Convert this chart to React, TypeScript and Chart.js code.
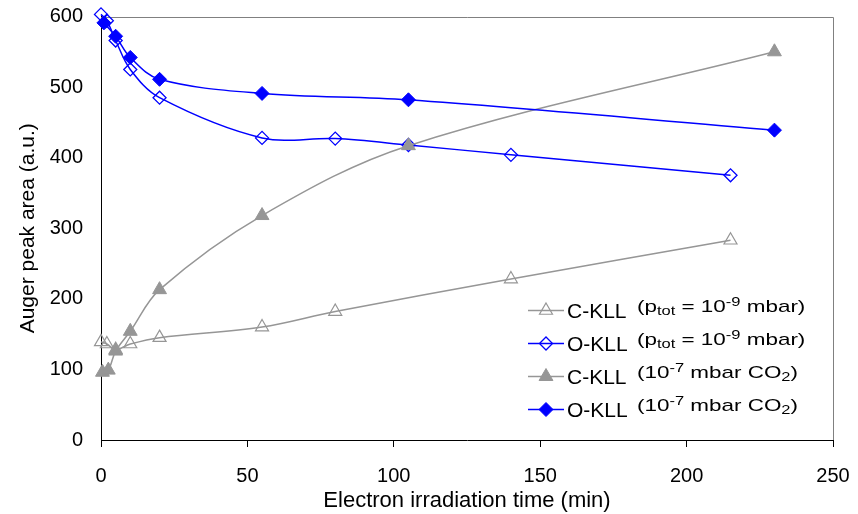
import React, { useEffect, useRef } from "react";
import { Chart, registerables } from "chart.js";
import { drawPoint } from "chart.js/helpers";

Chart.register(...registerables);

// ---- data ----
const cOpenTime = [0, 2, 5, 10, 20, 55, 80, 140, 215];
const cOpenArea = [139, 136, 128, 136, 145, 160, 182, 228, 283];

const oOpenTime = [0, 2, 5, 10, 20, 55, 80, 105, 140, 215];
const oOpenArea = [603, 594, 566, 525, 485, 428, 427, 418, 404, 375];

const cFilledTime = [0.5, 2.5, 5, 10, 20, 55, 105, 230];
const cFilledArea = [96, 99, 126, 154, 213, 318, 417, 550];

const oFilledTime = [1, 5, 10, 20, 55, 105, 230];
const oFilledArea = [591, 572, 542, 511, 491, 482, 439];

const xTickValues = [0, 50, 100, 150, 200, 250];
const yTickValues = [0, 100, 200, 300, 400, 500, 600];

const seriesNames = ["C-KLL", "O-KLL", "C-KLL", "O-KLL"];
// note segments: [text, kind] where kind: n = normal, sup, sub
const noteVacuum: [string, string][] = [
  ["(p", "n"],
  ["tot", "sub"],
  [" = 10", "n"],
  ["-9", "sup"],
  [" mbar)", "n"],
];
const noteCO2: [string, string][] = [
  ["(10", "n"],
  ["-7", "sup"],
  [" mbar CO", "n"],
  ["2", "sub"],
  [")", "n"],
];
const seriesNotes = [noteVacuum, noteVacuum, noteCO2, noteCO2];

const xTitle = "Electron irradiation time (min)";
const yTitle = "Auger peak area (a.u.)";

const GRAY = "#969696";
const BLUE = "#0000ff";
const FONT = '"Liberation Sans", Arial, sans-serif';

const toPoints = (xs: number[], ys: number[]) => xs.map((x, i) => ({ x, y: ys[i] }));

const framePlugin = {
  id: "frame",
  beforeDatasetsDraw(chart: any) {
    const { ctx, chartArea } = chart;
    ctx.save();
    ctx.strokeStyle = "#808080";
    ctx.lineWidth = 1;
    ctx.beginPath();
    ctx.moveTo(chartArea.left, Math.round(chartArea.top) + 0.5);
    ctx.lineTo(Math.round(chartArea.right) + 0.5, Math.round(chartArea.top) + 0.5);
    ctx.lineTo(Math.round(chartArea.right) + 0.5, chartArea.bottom);
    ctx.stroke();
    ctx.restore();
  },
};

const legendPlugin = {
  id: "customLegend",
  afterDraw(chart: any) {
    const ctx = chart.ctx as CanvasRenderingContext2D;
    const dss = chart.data.datasets;
    ctx.save();
    dss.forEach((ds: any, i: number) => {
      const base = 318 + i * 33;
      const lineY = base - 7.5;
      // line sample
      ctx.strokeStyle = ds.borderColor;
      ctx.lineWidth = ds.borderWidth;
      ctx.beginPath();
      ctx.moveTo(528, lineY);
      ctx.lineTo(564, lineY);
      ctx.stroke();
      // marker
      ctx.fillStyle = ds.pointBackgroundColor;
      ctx.strokeStyle = ds.pointBorderColor;
      ctx.lineWidth = ds.pointBorderWidth;
      drawPoint(
        ctx,
        {
          pointStyle: ds.pointStyle,
          radius: ds.pointRadius,
          rotation: 0,
          borderWidth: ds.pointBorderWidth,
        } as any,
        546,
        lineY
      );
      // main text
      ctx.fillStyle = "#000";
      ctx.textBaseline = "alphabetic";
      ctx.textAlign = "left";
      ctx.font = `21px ${FONT}`;
      ctx.fillText(seriesNames[i], 567, base);
      // note
      let x = 637;
      const sx = 1.32;
      seriesNotes[i].forEach(([t, kind]) => {
        const size = kind === "n" ? 17 : 12.5;
        const y = kind === "n" ? base - 6 : kind === "sup" ? base - 12 : base - 3;
        ctx.font = `${size}px ${FONT}`;
        ctx.save();
        ctx.translate(x, y);
        ctx.scale(sx, 1);
        ctx.fillText(t, 0, 0);
        ctx.restore();
        x += ctx.measureText(t).width * sx;
      });
    });
    ctx.restore();
  },
};

export default function App() {
  const ref = useRef<HTMLCanvasElement | null>(null);

  useEffect(() => {
    document.body.style.margin = "0";
    if (!ref.current) return;
    Chart.defaults.font.family = FONT;
    const common = { tension: 0.35, clip: 14, borderWidth: 1.5 };
    const chart = new Chart(ref.current, {
      type: "line",
      data: {
        datasets: [
          {
            label: "C-KLL vac",
            data: toPoints(cOpenTime, cOpenArea),
            borderColor: GRAY,
            pointStyle: "triangle",
            pointRadius: 7.5,
            pointBorderColor: GRAY,
            pointBackgroundColor: "rgba(0,0,0,0)",
            pointBorderWidth: 1.2,
            order: 3,
            ...common,
          },
          {
            label: "O-KLL vac",
            data: toPoints(oOpenTime, oOpenArea),
            borderColor: BLUE,
            pointStyle: "rectRot",
            pointRadius: 6.5,
            pointBorderColor: BLUE,
            pointBackgroundColor: "rgba(0,0,0,0)",
            pointBorderWidth: 1.3,
            order: 2,
            ...common,
          },
          {
            label: "C-KLL CO2",
            data: toPoints(cFilledTime, cFilledArea),
            borderColor: GRAY,
            pointStyle: "triangle",
            pointRadius: 8,
            pointBorderColor: GRAY,
            pointBackgroundColor: GRAY,
            pointBorderWidth: 1,
            order: 1,
            ...common,
          },
          {
            label: "O-KLL CO2",
            data: toPoints(oFilledTime, oFilledArea),
            borderColor: BLUE,
            pointStyle: "rectRot",
            pointRadius: 7,
            pointBorderColor: BLUE,
            pointBackgroundColor: BLUE,
            pointBorderWidth: 1,
            order: 0,
            ...common,
          },
        ],
      },
      options: {
        animation: false,
        responsive: false,
        events: [],
        layout: { padding: { top: 16.5, right: 25, left: 0, bottom: 0 } },
        plugins: { legend: { display: false }, tooltip: { enabled: false } },
        scales: {
          x: {
            type: "linear",
            min: 0,
            max: 250,
            afterBuildTicks: (s: any) => {
              s.ticks = xTickValues.map((v) => ({ value: v }));
            },
            afterFit: (s: any) => {
              s.height = 74;
              s.paddingLeft = 0;
              s.paddingRight = 0;
            },
            grid: {
              display: true,
              drawOnChartArea: false,
              drawTicks: true,
              tickLength: 7,
              color: "#000",
              lineWidth: 1,
            },
            border: { display: true, color: "#000", width: 1 },
            ticks: { color: "#000", font: { size: 20 }, padding: 17, maxRotation: 0 },
            title: {
              display: true,
              text: xTitle,
              color: "#000",
              font: { size: 22 },
              padding: { top: 0, bottom: 0 },
            },
          },
          y: {
            type: "linear",
            min: 0,
            max: 600,
            afterBuildTicks: (s: any) => {
              s.ticks = yTickValues.map((v) => ({ value: v }));
            },
            afterFit: (s: any) => {
              s.width = 101;
              s.paddingTop = 0;
              s.paddingBottom = 0;
            },
            grid: { display: false, drawTicks: false },
            border: { display: true, color: "#000", width: 1 },
            ticks: { color: "#000", font: { size: 20 }, padding: 18 },
            title: {
              display: true,
              text: yTitle,
              color: "#000",
              font: { size: 21 },
              padding: { top: 16, bottom: 0 },
            },
          },
        },
      },
      plugins: [framePlugin, legendPlugin],
    } as any);
    return () => chart.destroy();
  }, []);

  return (
    <div style={{ width: 858, height: 514, position: "relative" }}>
      <canvas ref={ref} width={858} height={514} />
    </div>
  );
}
